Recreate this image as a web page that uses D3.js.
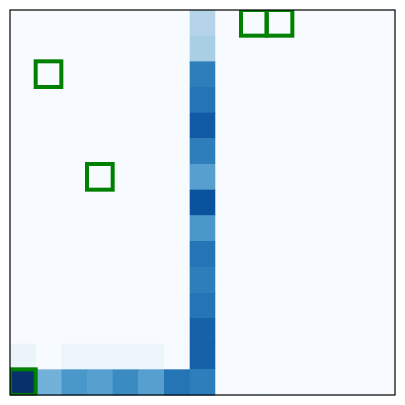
<!DOCTYPE html>
<html>
<head>
<meta charset="utf-8">
<script src="https://cdn.jsdelivr.net/npm/d3@7"></script>
<style>
  html, body { margin: 0; padding: 0; background: #ffffff; }
  svg { display: block; }
</style>
</head>
<body>
<svg id="chart" width="405" height="405"></svg>
<script>
// ---- data (normalised intensity 0..1, 15x15 grid) ----
const nRows = 15;
const nCols = 15;
const rowIndex = d3.range(nRows);
const colIndex = d3.range(nCols);
// column 7, rows 0..14 (top to bottom)
const column7Values = [0.30, 0.34, 0.70, 0.74, 0.835, 0.70, 0.565, 0.87, 0.60, 0.74, 0.70, 0.74, 0.81, 0.81, 0.70];
// bottom row (row 14), columns 0..6
const row14Values = [1.00, 0.48, 0.60, 0.565, 0.65, 0.565, 0.74];
// row 13, columns 0..6
const row13Values = [0.06, 0.0, 0.05, 0.05, 0.05, 0.05, 0.0];
// highlighted cells [row, col]
const highlightCells = [[14, 0], [0, 9], [0, 10], [2, 1], [6, 3]];

// matplotlib "Blues" anchor colours
const bluesStops = ["#f7fbff", "#deebf7", "#c6dbef", "#9ecae1", "#6baed6", "#4292c6", "#2171b5", "#08519c", "#08306b"];

// ---- build grid ----
const cells = [];
rowIndex.forEach(r => colIndex.forEach(c => {
  let v = 0;
  if (c === 7) v = column7Values[r];
  else if (r === 14 && c < 7) v = row14Values[c];
  else if (r === 13 && c < 7) v = row13Values[c];
  cells.push({ r, c, v });
}));

const L = 10, T = 10, R = 395, B = 395;
const svg = d3.select("#chart");

const x = d3.scaleBand().domain(colIndex).range([L, R]).padding(0);
const y = d3.scaleBand().domain(rowIndex).range([T, B]).padding(0);
const color = d3.scaleLinear()
  .domain(d3.range(bluesStops.length).map(i => i / (bluesStops.length - 1)))
  .range(bluesStops)
  .interpolate(d3.interpolateRgb);

svg.append("defs").append("clipPath").attr("id", "axclip")
  .append("rect").attr("x", L).attr("y", T).attr("width", R - L).attr("height", B - T);

svg.append("g").selectAll("rect").data(cells).join("rect")
  .attr("x", d => x(d.c))
  .attr("y", d => y(d.r))
  .attr("width", x.bandwidth() + 0.5)
  .attr("height", y.bandwidth() + 0.5)
  .attr("fill", d => color(d.v));

svg.append("g").attr("clip-path", "url(#axclip)")
  .selectAll("rect").data(highlightCells).join("rect")
  .attr("x", d => x(d[1]))
  .attr("y", d => y(d[0]))
  .attr("width", x.bandwidth())
  .attr("height", y.bandwidth())
  .attr("fill", "none")
  .attr("stroke", "#008000")
  .attr("stroke-width", 4);

svg.append("rect")
  .attr("x", L).attr("y", T).attr("width", R - L).attr("height", B - T)
  .attr("fill", "none").attr("stroke", "#000").attr("stroke-width", 1.2);
</script>
</body>
</html>
